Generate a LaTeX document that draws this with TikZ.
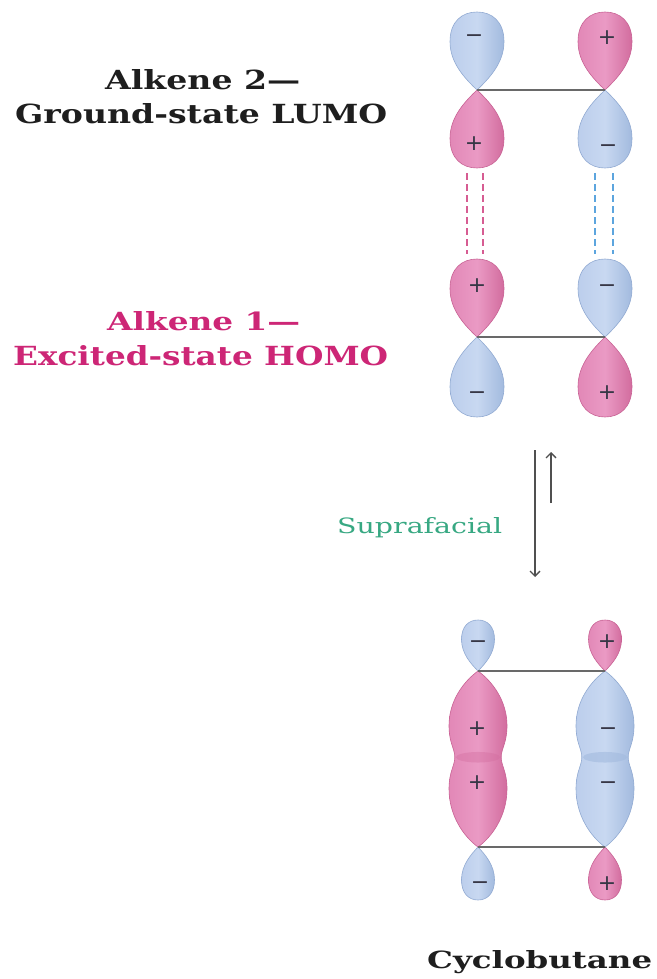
\documentclass[tikz,border=0pt]{standalone}
\usepackage{fontspec}
\usepackage{graphicx}
\setmainfont{DejaVu Serif}
\newfontfamily\signfont{DejaVu Sans}
\usetikzlibrary{arrows.meta}

\definecolor{titleink}{RGB}{30,30,30}
\definecolor{homoink}{RGB}{205,38,118}
\definecolor{supraink}{RGB}{55,168,130}
\definecolor{bondgray}{RGB}{105,105,105}
\definecolor{arrowgray}{RGB}{80,80,80}
\definecolor{signink}{RGB}{55,55,70}
\definecolor{pinkmid}{RGB}{226,136,183}
\definecolor{pinklight}{RGB}{234,154,196}
\definecolor{pinkdark}{RGB}{210,108,158}
\definecolor{pinkedge}{RGB}{200,98,148}
\definecolor{bluemid}{RGB}{188,206,236}
\definecolor{bluelight}{RGB}{200,216,241}
\definecolor{bluedark}{RGB}{162,186,222}
\definecolor{blueedge}{RGB}{145,170,210}
\definecolor{pinkdash}{RGB}{214,92,146}
\definecolor{bluedash}{RGB}{92,165,222}

\tikzset{
  pinklobe/.style={left color=pinkmid, right color=pinkdark, middle color=pinklight,
                   draw=pinkedge, line width=0.6pt},
  bluelobe/.style={left color=bluemid, right color=bluedark, middle color=bluelight,
                   draw=blueedge, line width=0.6pt},
  pinkwaist/.style={fill=pinkdark, opacity=0.4},
  bluewaist/.style={fill=bluedark, opacity=0.6},
  sign/.style={font=\signfont\fontsize{22}{22}\selectfont, text=signink,
               inner sep=0pt, text height=15.2pt, text depth=0pt, anchor=center},
  bond/.style={draw=bondgray, line width=2.2pt},
  pinkdashes/.style={draw=pinkdash, line width=2.2pt, dash pattern=on 7pt off 4pt},
  bluedashes/.style={draw=bluedash, line width=2.2pt, dash pattern=on 7pt off 4pt},
  eqarrow/.style={draw=arrowgray, line width=1.3pt,
                  -{Straight Barb[length=5pt, width=10pt]}},
  label/.style={inner sep=0pt, anchor=base west},
}

% p-orbital lobe: tip at #1, half width #2, signed length #3 (negative = upwards)
\newcommand\teardrop[4]{%
  \begin{scope}[shift={#1}, xscale=#2, yscale=#3]
    \path[#4] (0,0) .. controls (-0.42,-0.14) and (-1,-0.34) .. (-1,-0.62)
      .. controls (-1,-0.88) and (-0.55,-1) .. (0,-1)
      .. controls (0.55,-1) and (1,-0.88) .. (1,-0.62)
      .. controls (1,-0.34) and (0.42,-0.14) .. (0,0) -- cycle;
  \end{scope}}

% merged sigma lobe between two tips: top tip #1, half width #2, length #3
\newcommand\sigmalobe[5]{%
  \begin{scope}[shift={#1}, xscale=#2, yscale=#3]
    \path[#4] (0,0) .. controls (-0.5,0.06) and (-1,0.17) .. (-1,0.31)
      .. controls (-1,0.41) and (-0.8,0.44) .. (-0.8,0.49)
      .. controls (-0.8,0.54) and (-1,0.57) .. (-1,0.67)
      .. controls (-1,0.82) and (-0.5,0.94) .. (0,1)
      .. controls (0.5,0.94) and (1,0.82) .. (1,0.67)
      .. controls (1,0.57) and (0.8,0.54) .. (0.8,0.49)
      .. controls (0.8,0.44) and (1,0.41) .. (1,0.31)
      .. controls (1,0.17) and (0.5,0.06) .. (0,0) -- cycle;
    \path[#5] (0,0.49) ellipse [x radius=0.76, y radius=0.03];
  \end{scope}}

\begin{document}
\begin{tikzpicture}[x=1pt, y=-1pt]
  \fill[white] (0,0) rectangle (656,979);
  \useasboundingbox (0,0) rectangle (656,979);

  % ---------- Alkene 2: ground-state LUMO ----------
  \coordinate (a2L) at (477,90);
  \coordinate (a2R) at (605,90);
  \teardrop{(a2L)}{27}{78}{bluelobe}
  \teardrop{(a2R)}{27}{78}{pinklobe}
  \teardrop{(a2L)}{27}{-78}{pinklobe}
  \teardrop{(a2R)}{27}{-78}{bluelobe}
  \draw[bond] (a2L) -- (a2R);
  \node[sign] (a2s1) at (474,35) {−};
  \node[sign] (a2s2) at (607,37) {+};
  \node[sign] (a2s3) at (474,143) {+};
  \node[sign] (a2s4) at (608,145) {−};

  % ---------- Alkene 1: excited-state HOMO ----------
  \coordinate (a1L) at (477,337);
  \coordinate (a1R) at (605,337);
  \teardrop{(a1L)}{27}{78}{pinklobe}
  \teardrop{(a1R)}{27}{78}{bluelobe}
  \teardrop{(a1L)}{27}{-80}{bluelobe}
  \teardrop{(a1R)}{27}{-80}{pinklobe}
  \draw[bond] (a1L) -- (a1R);
  \node[sign] (a1s1) at (477,285) {+};
  \node[sign] (a1s2) at (607,285) {−};
  \node[sign] (a1s3) at (477,392) {−};
  \node[sign] (a1s4) at (607,392) {+};

  % ---------- overlap between the two alkenes ----------
  \coordinate (dpa) at (467,173);  \coordinate (dpa') at (467,254);
  \coordinate (dpb) at (483,173);  \coordinate (dpb') at (483,254);
  \coordinate (dba) at (595,173);  \coordinate (dba') at (595,254);
  \coordinate (dbb) at (613,173);  \coordinate (dbb') at (613,254);
  \draw[pinkdashes] (dpa) -- (dpa');
  \draw[pinkdashes] (dpb) -- (dpb');
  \draw[bluedashes] (dba) -- (dba');
  \draw[bluedashes] (dbb) -- (dbb');

  % ---------- equilibrium arrows ----------
  \coordinate (fwdA) at (535,450);  \coordinate (fwdB) at (535,577);
  \coordinate (revA) at (551,503);  \coordinate (revB) at (551,452);
  \draw[eqarrow] (fwdA) -- (fwdB);
  \draw[eqarrow] (revA) -- (revB);

  % ---------- cyclobutane ----------
  \coordinate (cTL) at (478,671);
  \coordinate (cTR) at (605,671);
  \coordinate (cBL) at (478,847);
  \coordinate (cBR) at (605,847);
  \teardrop{(cTL)}{16.5}{51}{bluelobe}
  \teardrop{(cTR)}{16.5}{51}{pinklobe}
  \teardrop{(cBL)}{16.5}{-53}{bluelobe}
  \teardrop{(cBR)}{16.5}{-53}{pinklobe}
  \sigmalobe{(cTL)}{29}{176}{pinklobe}{pinkwaist}
  \sigmalobe{(cTR)}{29}{176}{bluelobe}{bluewaist}
  \draw[bond] (cTL) -- (cTR);
  \draw[bond] (cBL) -- (cBR);
  \node[sign] (cs1) at (478,641) {−};
  \node[sign] (cs2) at (607,641) {+};
  \node[sign] (cs3) at (477,728) {+};
  \node[sign] (cs4) at (477,782) {+};
  \node[sign] (cs5) at (608,728) {−};
  \node[sign] (cs6) at (608,782) {−};
  \node[sign] (cs7) at (480,882) {−};
  \node[sign] (cs8) at (607,883) {+};

  % ---------- labels ----------
  \node[label, text=titleink, font=\bfseries] (lumo1) at (105,90)
    {\resizebox{195pt}{20pt}{Alkene 2—}};
  \node[label, text=titleink, font=\bfseries] (lumo2) at (15,124)
    {\resizebox{372pt}{20pt}{Ground-state LUMO}};
  \node[label, text=homoink, font=\bfseries] (homo1) at (107,330)
    {\resizebox{193pt}{19pt}{Alkene 1—}};
  \node[label, text=homoink, font=\bfseries] (homo2) at (13,365)
    {\resizebox{375pt}{20pt}{Excited-state HOMO}};
  \node[label, text=supraink] (supra) at (337,533)
    {\resizebox{165pt}{16pt}{Suprafacial}};
  \node[label, text=titleink, font=\bfseries] (cbut) at (427,968)
    {\resizebox{225pt}{18pt}{Cyclobutane}};
\end{tikzpicture}
\end{document}
